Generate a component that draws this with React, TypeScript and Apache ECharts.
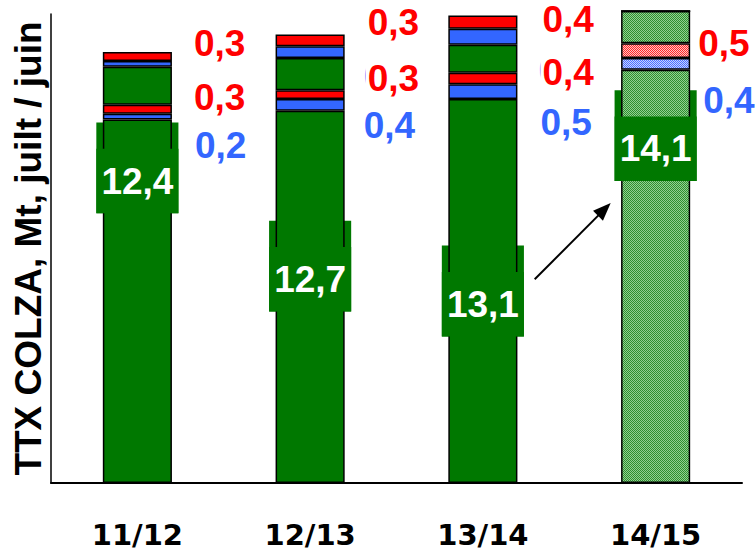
import React, { useEffect, useRef } from 'react';
import * as echarts from 'echarts';

// ---- data ----
const categories = ['11/12', '12/13', '13/14', '14/15'];
const baseVolume = [12.4, 12.7, 13.1, 14.1];
const blueLower = [0.2, 0.4, 0.5, 0.4];
const redLower = [0.3, 0.3, 0.4, 0.5];
const greenMiddle = [1.3, 1.1, 0.95, 1.1];
const blueUpper = [0.2, 0.4, 0.55, 0];
const redUpper = [0.3, 0.4, 0.45, 0];

const baseLabels = ['12,4', '12,7', '13,1', '14,1'];
const blueLowerLabels = ['0,2', '0,4', '0,5', '0,4'];
const redLowerLabels = ['0,3', '0,3', '0,4', '0,5'];
const redUpperLabels = ['0,3', '0,3', '0,4', ''];
const hiddenBlueLabels = ['', '0,4', '0,5', ''];
const forecastIndex = 3;

// annotation placement, in value units of the y axis
const boxBottomAt = [9.2, 5.85, 5.0, 10.3];
const redUpperLabelAt = [15.0, 15.7, 15.82, NaN];
const redLowerLabelAt = [13.15, 13.8, 14.0, 15.0];
const blueLowerLabelAt = [11.5, 12.2, 12.3, 13.05];
const arrowFromAt = 6.95;
const arrowToAt = 9.55;

// ---- styles ----
const GREEN = '#007800';
const BLUE = '#3366FF';
const RED = '#FF0000';
const FONT = '"Liberation Sans", Arial, Helvetica, sans-serif';
const BOX_H = 3.1;
const BOX_FRONT_H = 2.2;
const TEXT_AT = 1.1;
const redGap = [22, 23, 25, 8];
const blueGap = [23, 19, 23, 13];

function checker(a: string, b: string) {
  const c = document.createElement('canvas');
  c.width = 2;
  c.height = 2;
  const ctx = c.getContext('2d')!;
  ctx.fillStyle = b;
  ctx.fillRect(0, 0, 2, 2);
  ctx.fillStyle = a;
  ctx.fillRect(0, 0, 1, 1);
  ctx.fillRect(1, 1, 1, 1);
  return { image: c.toDataURL(), repeat: 'repeat', imageWidth: 2, imageHeight: 2 } as any;
}

export default function App() {
  const ref = useRef<HTMLDivElement>(null);
  useEffect(() => {
    if (!ref.current) return;
    const chart = echarts.init(ref.current, undefined, { renderer: 'svg' });

    const hatchGreen = checker('#2E8F2E', '#92CF92');
    const hatchBlue = checker('#4D70FF', '#C4D2FF');
    const hatchRed = checker('#FF2828', '#FFC4C4');

    const seg = (name: string, values: number[], color: string, hatch: any) => ({
      type: 'bar',
      name,
      stack: 'total',
      barWidth: '40%',
      clip: false,
      z: 2,
      data: values.map((v, i) =>
        i === forecastIndex ? { value: v, itemStyle: { color: hatch } } : v
      ),
      itemStyle: { color, borderColor: '#000', borderWidth: 1.5 },
    });

    const catData = categories.map((_, i) => [i]);
    const textStyle = (text: string, fill: string, align: string) => ({
      text,
      fill,
      font: `bold 37px ${FONT}`,
      align,
      verticalAlign: 'middle',
    });

    const option: any = {
      animation: false,
      grid: { left: 51, right: 13, top: 14, bottom: 72 },
      xAxis: {
        type: 'category',
        data: categories,
        axisTick: { show: false },
        axisLine: { lineStyle: { color: '#000', width: 2 } },
        axisLabel: {
          color: '#000',
          fontFamily: '"DejaVu Sans", sans-serif',
          fontWeight: 'bold',
          fontSize: 29,
          margin: 37,
        },
      },
      yAxis: {
        type: 'value',
        min: 0,
        max: 16,
        splitLine: { show: false },
        axisLabel: { show: false },
        axisTick: { show: false },
        axisLine: { show: true, lineStyle: { color: '#000', width: 1.5 } },
        name: 'TTX COLZA, Mt, juilt / juin',
        nameLocation: 'middle',
        nameGap: 4,
        nameTextStyle: {
          color: '#000',
          fontFamily: FONT,
          fontWeight: 'bold',
          fontSize: 37,
        },
      },
      series: [
        {
          type: 'custom',
          z: 1,
          data: catData,
          encode: { x: 0 },
          renderItem: (params: any, api: any) => {
            const i = api.value(0);
            const band = api.size([1, 0])[0];
            const cx = api.coord([i, 0])[0];
            const w = band * 0.4 + 13;
            const yTop = api.coord([i, boxBottomAt[i] + BOX_H])[1];
            const yBot = api.coord([i, boxBottomAt[i]])[1];
            return {
              type: 'rect',
              shape: { x: cx - w / 2, y: yTop, width: w, height: yBot - yTop },
              style: { fill: GREEN },
            };
          },
        },
        seg('base', baseVolume, GREEN, hatchGreen),
        seg('blueLower', blueLower, BLUE, hatchBlue),
        seg('redLower', redLower, RED, hatchRed),
        seg('greenMiddle', greenMiddle, GREEN, hatchGreen),
        seg('blueUpper', blueUpper, BLUE, hatchBlue),
        seg('redUpper', redUpper, RED, hatchRed),
        {
          type: 'custom',
          z: 5,
          data: catData,
          encode: { x: 0 },
          renderItem: (params: any, api: any) => {
            const i = api.value(0);
            const band = api.size([1, 0])[0];
            const cx = api.coord([i, 0])[0];
            const barW = band * 0.4;
            const w = barW + 13;
            const right = cx + barW / 2;
            const yFrontTop = api.coord([i, boxBottomAt[i] + BOX_FRONT_H])[1];
            const yBot = api.coord([i, boxBottomAt[i]])[1];
            const yText = api.coord([i, boxBottomAt[i] + TEXT_AT])[1];
            const children: any[] = [
              {
                type: 'rect',
                shape: { x: cx - w / 2, y: yFrontTop, width: w, height: yBot - yFrontTop },
                style: { fill: GREEN },
              },
              {
                type: 'text',
                x: cx,
                y: yText,
                style: textStyle(baseLabels[i], '#fff', 'center'),
              },
              {
                type: 'text',
                x: right + blueGap[i],
                y: api.coord([i, blueLowerLabelAt[i]])[1],
                style: textStyle(blueLowerLabels[i], BLUE, 'left'),
              },
            ];
            const yRedLow = api.coord([i, redLowerLabelAt[i]])[1];
            if (hiddenBlueLabels[i]) {
              children.push({
                type: 'text',
                x: right + redGap[i] - 4,
                y: yRedLow - 2,
                style: textStyle(hiddenBlueLabels[i], BLUE, 'left'),
              });
            }
            children.push({
              type: 'text',
              x: right + redGap[i] - 2,
              y: yRedLow,
              style: {
                ...textStyle(redLowerLabels[i], RED, 'left'),
                backgroundColor: '#fff',
                padding: [0, 0, 0, 2],
              },
            });
            if (redUpperLabels[i]) {
              children.push({
                type: 'text',
                x: right + redGap[i],
                y: api.coord([i, redUpperLabelAt[i]])[1],
                style: textStyle(redUpperLabels[i], RED, 'left'),
              });
            }
            return { type: 'group', children };
          },
        },
        {
          type: 'custom',
          z: 6,
          data: [[2]],
          encode: { x: 0 },
          renderItem: (params: any, api: any) => {
            const i = api.value(0);
            const band = api.size([1, 0])[0];
            const cx = api.coord([i, 0])[0];
            const x1 = cx + 0.3 * band;
            const y1 = api.coord([i, arrowFromAt])[1];
            const x2 = cx + 0.74 * band;
            const y2 = api.coord([i, arrowToAt])[1];
            const dx = x2 - x1;
            const dy = y2 - y1;
            const len = Math.sqrt(dx * dx + dy * dy);
            const ux = dx / len;
            const uy = dy / len;
            const hl = 18;
            const hw = 7;
            const bx = x2 - ux * hl;
            const by = y2 - uy * hl;
            return {
              type: 'group',
              children: [
                {
                  type: 'line',
                  shape: { x1, y1, x2: x2 - ux * 10, y2: y2 - uy * 10 },
                  style: { stroke: '#000', lineWidth: 2 },
                },
                {
                  type: 'polygon',
                  shape: {
                    points: [
                      [x2, y2],
                      [bx - uy * hw, by + ux * hw],
                      [bx + uy * hw, by - ux * hw],
                    ],
                  },
                  style: { fill: '#000' },
                },
              ],
            };
          },
        },
      ],
    };

    chart.setOption(option);
    return () => chart.dispose();
  }, []);

  return (
    <div
      ref={ref}
      style={{ position: 'fixed', left: 0, top: 0, width: 755, height: 555, background: '#fff' }}
    />
  );
}
